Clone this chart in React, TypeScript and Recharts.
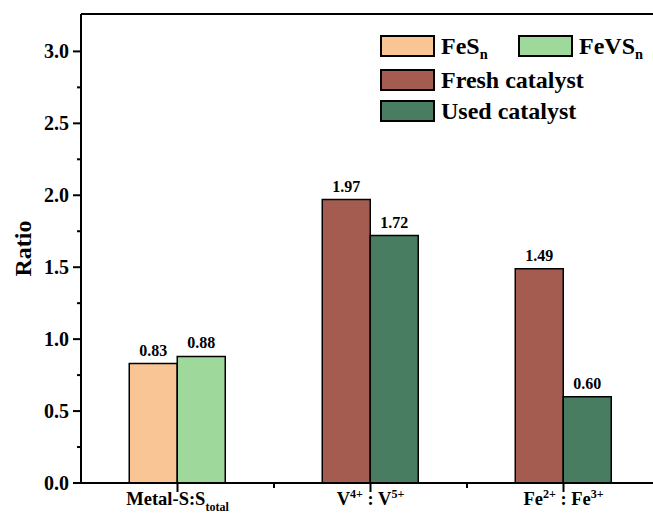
import React from 'react';
import { BarChart, Bar, XAxis, YAxis, LabelList, Legend, ReferenceLine } from 'recharts';

// ---- data ----
const categories = ['Metal-S:S_total', 'V^4+ : V^5+', 'Fe^2+ : Fe^3+'];
const feSnValues = [0.83, null, null];
const feVSnValues = [0.88, null, null];
const freshValues = [null, 1.97, 1.49];
const usedValues = [null, 1.72, 0.6];
const yTicks = [0, 0.25, 0.5, 0.75, 1, 1.25, 1.5, 1.75, 2, 2.25, 2.5, 2.75, 3];
const yDomainMax = 3.26;

const seriesNames = { feSn: 'FeS_n', feVSn: 'FeVS_n', fresh: 'Fresh catalyst', used: 'Used catalyst' };

const data = categories.map((cat, i) => ({
  cat,
  feSn: feSnValues[i],
  feVSn: feVSnValues[i],
  fresh: freshValues[i],
  used: usedValues[i],
}));

const FONT = '"Liberation Serif", "Times New Roman", serif';
const COLORS = { feSn: '#F9C594', feVSn: '#9ED89B', fresh: '#A45C50', used: '#487D61' };

type Part = { text: string; kind: 'base' | 'sub' | 'sup' };
function parseRich(label: string): Part[] {
  const parts: Part[] = [];
  const re = /([_^])([^\s]+)/g;
  let last = 0;
  let m: RegExpExecArray | null;
  while ((m = re.exec(label))) {
    if (m.index > last) parts.push({ text: label.slice(last, m.index), kind: 'base' });
    parts.push({ text: m[2], kind: m[1] === '_' ? 'sub' : 'sup' });
    last = m.index + m[0].length;
  }
  if (last < label.length) parts.push({ text: label.slice(last), kind: 'base' });
  return parts;
}

function svgRich(label: string, size: number) {
  const parts = parseRich(label);
  let shift = 0;
  return parts.map((p, i) => {
    const target = p.kind === 'sup' ? -0.4 * size : p.kind === 'sub' ? 0.3 * size : 0;
    const dy = target - shift;
    shift = target;
    return (
      <tspan key={i} dy={dy} fontSize={p.kind === 'base' ? size : size * 0.65}>
        {p.text}
      </tspan>
    );
  });
}

function htmlRich(label: string) {
  return parseRich(label).map((p, i) => {
    if (p.kind === 'base') return <span key={i}>{p.text}</span>;
    return (
      <span
        key={i}
        style={{
          fontSize: '0.6em',
          position: 'relative',
          top: p.kind === 'sub' ? '0.35em' : '-0.55em',
          lineHeight: 0,
        }}
      >
        {p.text}
      </span>
    );
  });
}

const XTick = (props: any) => {
  const { x, y, payload, width, visibleTicksCount } = props;
  const band = width && visibleTicksCount ? width / visibleTicksCount : 193;
  return (
    <g>
      <line x1={x} x2={x} y1={y} y2={y + 9} stroke="#000" strokeWidth={2} />
      <line x1={x + band / 2} x2={x + band / 2} y1={y} y2={y + 5} stroke="#000" strokeWidth={2} />
      <text
        x={x}
        y={y + 22}
        textAnchor="middle"
        fontFamily={FONT}
        fontWeight="bold"
        fill="#000"
        style={{ whiteSpace: 'pre' }}
      >
        {svgRich(String(payload.value), 18.5)}
      </text>
    </g>
  );
};

const YTick = (props: any) => {
  const { x, y, payload } = props;
  const v = Number(payload.value);
  const major = Math.abs(v * 2 - Math.round(v * 2)) < 1e-6;
  return (
    <g>
      <line x1={x} x2={x - (major ? 8 : 4)} y1={y} y2={y} stroke="#000" strokeWidth={2} />
      {major && (
        <text
          x={x - 12}
          y={y}
          dy="0.35em"
          textAnchor="end"
          fontFamily={FONT}
          fontWeight="bold"
          fontSize={20}
          fill="#000"
        >
          {v.toFixed(1)}
        </text>
      )}
    </g>
  );
};

const YLabel = (props: any) => {
  const vb = props.viewBox || { x: 0, y: 14, width: 81, height: 469 };
  const cx = vb.x + 23;
  const cy = vb.y + vb.height / 2;
  return (
    <text
      x={cx}
      y={cy}
      transform={`rotate(-90, ${cx}, ${cy})`}
      textAnchor="middle"
      dominantBaseline="central"
      fontFamily={FONT}
      fontWeight="bold"
      fontSize={24}
      fill="#000"
    >
      Ratio
    </text>
  );
};

const legendSlots: Record<string, { left: number; top: number }> = {
  feSn: { left: 0, top: 0 },
  feVSn: { left: 138, top: 0 },
  fresh: { left: 0, top: 34 },
  used: { left: 0, top: 65 },
};

const LegendContent = (props: any) => {
  const payload: any[] = props.payload || [];
  return (
    <div style={{ position: 'relative', width: 280, height: 90 }}>
      {payload.map((item: any) => {
        const key = String(item.dataKey);
        const slot = legendSlots[key];
        if (!slot) return null;
        return (
          <div
            key={key}
            style={{
              position: 'absolute',
              left: slot.left,
              top: slot.top,
              height: 22,
              display: 'flex',
              alignItems: 'center',
              whiteSpace: 'nowrap',
            }}
          >
            <div
              style={{
                width: 55,
                height: 22,
                boxSizing: 'border-box',
                border: '2px solid #000',
                background: item.color,
                marginRight: 6,
              }}
            />
            <span
              style={{
                fontFamily: FONT,
                fontWeight: 'bold',
                fontSize: 24,
                color: '#000',
                lineHeight: '22px',
              }}
            >
              {htmlRich(String(item.value))}
            </span>
          </div>
        );
      })}
    </div>
  );
};

const fmt = (v: any) => (v === null || v === undefined || v === '' ? '' : Number(v).toFixed(2));

const labelStyle = { fill: '#000', fontSize: 16, fontWeight: 'bold', fontFamily: FONT } as any;

export default function App() {
  return (
    <div
      style={{
        position: 'absolute',
        left: 0,
        top: 0,
        width: 653,
        height: 518,
        overflow: 'hidden',
        background: '#fff',
      }}
    >
      <BarChart
        width={700}
        height={518}
        data={data}
        margin={{ top: 14, right: 40, bottom: 0, left: 0 }}
        barCategoryGap="25%"
        barGap={0}
      >
        <XAxis
          dataKey="cat"
          height={35}
          interval={0}
          tickLine={false}
          tickSize={0}
          tickMargin={0}
          axisLine={{ stroke: '#000', strokeWidth: 2 }}
          tick={<XTick />}
        />
        <YAxis
          width={81}
          domain={[0, yDomainMax]}
          ticks={yTicks}
          interval={0}
          tickLine={false}
          tickSize={0}
          tickMargin={0}
          axisLine={{ stroke: '#000', strokeWidth: 2 }}
          tick={<YTick />}
          label={<YLabel />}
        />
        <ReferenceLine y={yDomainMax} stroke="#000" strokeWidth={2} />
        <Legend
          layout="horizontal"
          verticalAlign="middle"
          align="center"
          wrapperStyle={{ left: 380, top: 35, width: 280, height: 90 }}
          content={<LegendContent />}
        />
        <Bar dataKey="feSn" name={seriesNames.feSn} stackId="a" fill={COLORS.feSn} stroke="#000" strokeWidth={1.5} isAnimationActive={false}>
          <LabelList dataKey="feSn" position="top" offset={8} formatter={fmt} style={labelStyle} />
        </Bar>
        <Bar dataKey="feVSn" name={seriesNames.feVSn} stackId="b" fill={COLORS.feVSn} stroke="#000" strokeWidth={1.5} isAnimationActive={false}>
          <LabelList dataKey="feVSn" position="top" offset={8} formatter={fmt} style={labelStyle} />
        </Bar>
        <Bar dataKey="fresh" name={seriesNames.fresh} stackId="a" fill={COLORS.fresh} stroke="#000" strokeWidth={1.5} isAnimationActive={false}>
          <LabelList dataKey="fresh" position="top" offset={8} formatter={fmt} style={labelStyle} />
        </Bar>
        <Bar dataKey="used" name={seriesNames.used} stackId="b" fill={COLORS.used} stroke="#000" strokeWidth={1.5} isAnimationActive={false}>
          <LabelList dataKey="used" position="top" offset={8} formatter={fmt} style={labelStyle} />
        </Bar>
      </BarChart>
    </div>
  );
}
